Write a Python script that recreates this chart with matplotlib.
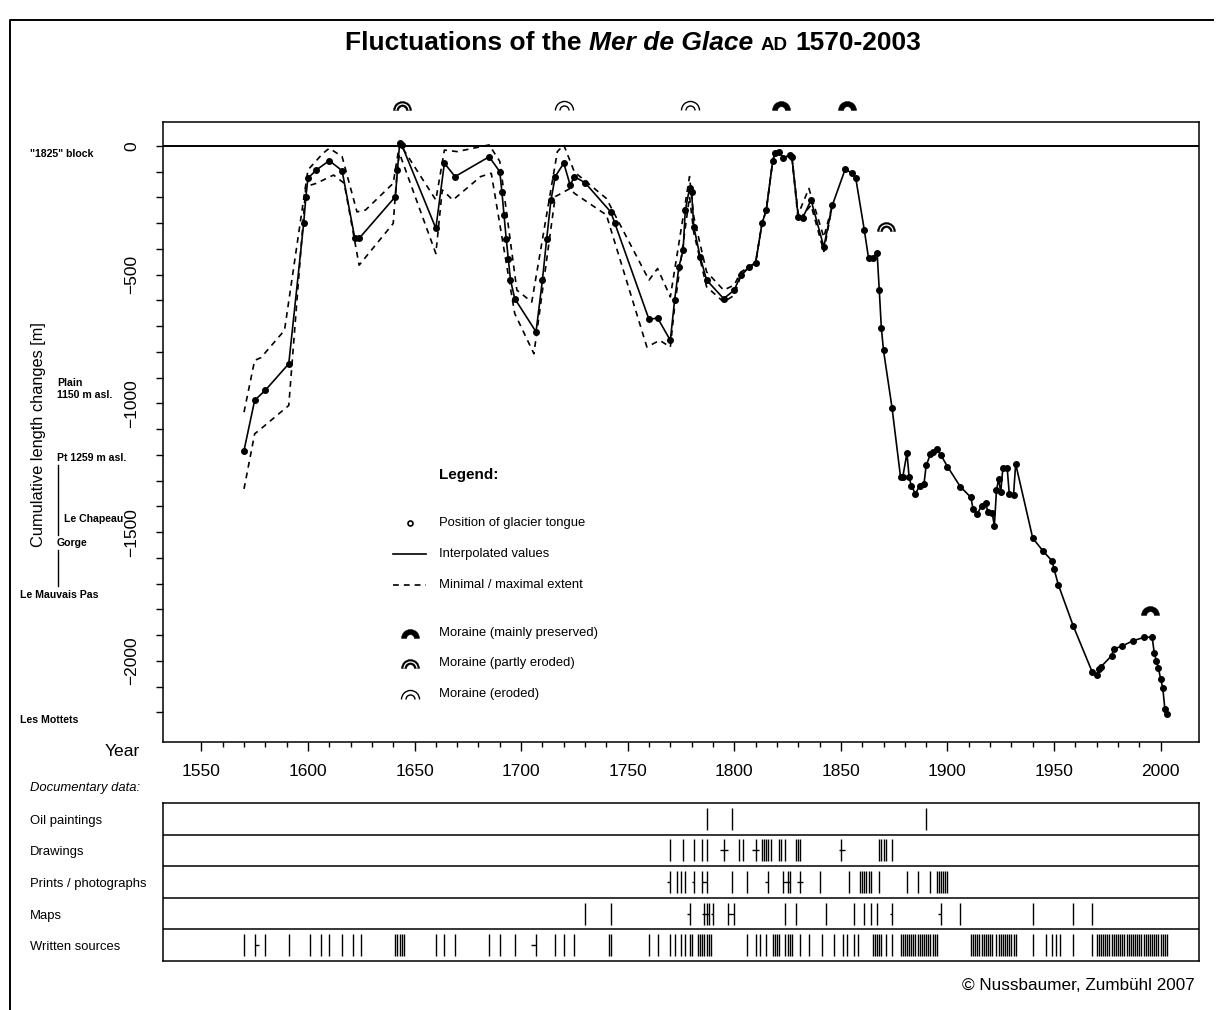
import numpy as np
import matplotlib
matplotlib.use("Agg")
import matplotlib.pyplot as plt
from matplotlib.path import Path
from matplotlib.lines import Line2D

plt.rcParams['font.family'] = ['Liberation Sans', 'DejaVu Sans']
plt.rcParams['axes.linewidth'] = 1.1

W, H, DPI = 1218, 1010, 100

# Cumulative length change of the glacier tongue [m], relative to the "1825" block
years = [1570, 1575, 1580, 1591, 1598, 1599, 1600, 1604, 1610, 1616, 1622, 1624,
         1641, 1642, 1643, 1644, 1660, 1664, 1669, 1685, 1690, 1691, 1692, 1693,
         1694, 1695, 1697, 1707, 1710, 1712, 1714, 1716, 1720, 1723, 1725, 1730,
         1742, 1744, 1760, 1764, 1770, 1772, 1774, 1776, 1777, 1779, 1780, 1781,
         1784, 1787, 1795, 1800, 1803, 1807, 1810, 1813, 1815, 1818, 1819, 1821,
         1823, 1826, 1827, 1830, 1832, 1836, 1842, 1846, 1852, 1855, 1857, 1861,
         1863, 1865, 1867, 1868, 1869, 1870, 1874, 1878, 1879, 1881, 1882, 1883,
         1885, 1887, 1889, 1890, 1892, 1893, 1895, 1897, 1900, 1906, 1911, 1912,
         1914, 1916, 1918, 1919, 1921, 1922, 1923, 1924, 1925, 1926, 1928, 1929,
         1931, 1932, 1940, 1945, 1949, 1950, 1952, 1959, 1968, 1970, 1971, 1972,
         1977, 1978, 1982, 1987, 1992, 1996, 1997, 1998, 1999, 2000, 2001, 2002,
         2003]
length = [-1183, -988, -949, -846, -300, -200, -125, -93, -57, -96, -359, -359,
          -197, -93, 10, 4, -320, -67, -119, -42, -100, -180, -270, -360,
          -440, -520, -593, -722, -520, -360, -210, -119, -67, -152, -119, -143,
          -256, -301, -674, -668, -755, -599, -470, -405, -250, -165, -180, -314,
          -431, -521, -593, -560, -502, -470, -454, -301, -249, -60, -28, -22,
          -48, -35, -41, -275, -281, -210, -392, -230, -91, -104, -126, -327,
          -437, -437, -415, -558, -709, -794, -1017, -1287, -1287, -1193, -1284, -1319,
          -1351, -1319, -1312, -1241, -1198, -1189, -1176, -1202, -1245, -1323, -1365, -1410,
          -1429, -1397, -1388, -1423, -1427, -1475, -1338, -1293, -1345, -1250, -1250, -1351,
          -1354, -1235, -1523, -1575, -1611, -1643, -1704, -1864, -2045, -2054, -2032, -2023,
          -1980, -1954, -1942, -1922, -1909, -1907, -1968, -2000, -2028, -2071, -2104, -2188,
          -2207]

# Maximal and minimal possible extent
max_years = [1570, 1575, 1578, 1589, 1600, 1607, 1610, 1616, 1623, 1627, 1640, 1643,
             1660, 1664, 1670, 1685, 1690, 1698, 1705, 1717, 1720, 1725, 1740, 1760,
             1764, 1770, 1779, 1781, 1787, 1795, 1800, 1803, 1807, 1810, 1813, 1815,
             1818, 1819, 1821, 1823, 1826, 1827, 1830, 1835, 1842, 1846]
max_length = [-1034, -833, -822, -716, -93, -29, -9, -41, -256, -249, -145, 10,
              -210, -16, -22, 4, -60, -560, -606, -22, 4, -101, -204, -521,
              -476, -586, -119, -275, -489, -560, -540, -490, -470, -454, -301, -249,
              -60, -28, -22, -48, -35, -41, -265, -165, -355, -230]
min_years = [1570, 1575, 1577, 1591, 1599, 1604, 1612, 1617, 1624, 1640, 1642, 1643,
             1660, 1663, 1668, 1681, 1686, 1697, 1706, 1716, 1723, 1725, 1740, 1759,
             1765, 1770, 1772, 1779, 1781, 1787, 1795, 1800, 1803, 1807, 1810, 1813,
             1815, 1818, 1819, 1821, 1823, 1826, 1827, 1830, 1836, 1842, 1846]
min_length = [-1332, -1118, -1105, -1008, -158, -145, -113, -145, -463, -301, -80, -30,
              -418, -171, -210, -119, -106, -651, -807, -197, -165, -184, -268, -781,
              -755, -781, -625, -197, -337, -547, -606, -580, -505, -470, -454, -301,
              -249, -60, -28, -22, -48, -35, -41, -290, -230, -410, -230]

# Moraines: year, position of the symbol and state of preservation
moraine_years = [1644, 1720, 1779, 1822, 1853, 1871, 1995]
moraine_length = [140, 140, 140, 140, 140, -330, -1821]
moraine_state = ['partly', 'eroded', 'eroded', 'preserved', 'preserved', 'partly', 'preserved']

# Documentary data (year of each source)
doc_rows = ['Oil paintings', 'Drawings', 'Prints / photographs', 'Maps', 'Written sources']
oil_years = [1787, 1799, 1890]
drawing_years = [1770, 1776, 1781, 1785, 1787, 1795, 1802, 1804, 1810, 1813, 1814,
                 1815, 1816, 1817, 1821, 1822, 1824, 1829, 1830, 1831, 1850, 1868,
                 1869, 1870, 1871, 1874]
print_years = [1770, 1773, 1775, 1777, 1781, 1785, 1787, 1799, 1806, 1816, 1823,
               1825, 1826, 1831, 1840, 1854, 1859, 1860, 1861, 1862, 1863, 1864,
               1868, 1881, 1886, 1892, 1895, 1896, 1897, 1898, 1899, 1900]
map_years = [1730, 1742, 1779, 1786, 1787, 1788, 1790, 1797, 1800, 1824, 1829, 1843,
             1856, 1861, 1864, 1867, 1874, 1897, 1906, 1940, 1959, 1968]
written_years = [1570, 1575, 1580, 1591, 1601, 1606, 1610, 1616, 1621, 1625, 1641,
                 1642, 1643, 1644, 1645, 1660, 1664, 1669, 1685, 1690, 1697, 1707,
                 1716, 1720, 1725, 1741, 1742, 1760, 1764, 1770, 1772, 1775, 1777,
                 1779, 1780, 1783, 1784, 1785, 1786, 1787, 1788, 1789, 1806, 1810,
                 1812, 1815, 1818, 1819, 1820, 1821, 1824, 1825, 1826, 1827, 1831,
                 1835, 1841, 1847, 1851, 1853, 1856, 1858, 1865, 1866, 1867, 1868,
                 1869, 1871, 1874, 1878, 1879, 1880, 1881, 1882, 1883, 1884, 1885,
                 1886, 1887, 1888, 1889, 1890, 1891, 1892, 1893, 1894, 1895, 1911,
                 1912, 1913, 1914, 1915, 1916, 1917, 1918, 1919, 1920, 1921, 1923,
                 1924, 1925, 1926, 1927, 1928, 1929, 1930, 1931, 1932, 1940, 1946,
                 1949, 1951, 1953, 1959, 1968, 1970, 1971, 1972, 1973, 1974, 1975,
                 1976, 1977, 1978, 1979, 1980, 1981, 1982, 1983, 1984, 1985, 1986,
                 1987, 1988, 1989, 1990, 1991, 1992, 1993, 1994, 1995, 1996, 1997,
                 1998, 1999, 2000, 2001, 2002, 2003]
# Sources dated only to a span of years
oil_spans = []
drawing_spans = [(1793.5, 1797), (1808.5, 1811.5), (1849, 1852)]
print_spans = [(1768.5, 1770), (1780, 1781), (1785, 1787), (1814.5, 1816), (1823, 1826), (1829.5, 1832)]
map_spans = [(1778, 1779), (1785, 1788), (1789, 1790), (1797, 1800), (1873, 1874), (1895.5, 1897)]
written_spans = [(1575, 1577), (1704.5, 1707)]

fig = plt.figure(figsize=(W / DPI, H / DPI), dpi=DPI)


def fx(px):
    return px / W


def fy(py):
    return 1 - py / H


# ---------- moraine symbols ----------
def unit_arc():
    return Path.arc(0, 180)


def half_ring(r_in):
    a = Path.arc(0, 180)
    vo = a.vertices
    vi = a.vertices[::-1] * r_in
    verts = np.vstack([vo, vi, vo[:1]])
    codes = ([Path.MOVETO] + [Path.CURVE4] * (len(vo) - 1)
             + [Path.LINETO] + [Path.CURVE4] * (len(vi) - 1) + [Path.CLOSEPOLY])
    return Path(verts, codes)


def moraine_artists(x, y, state, size, transform):
    kw = dict(ls='none', transform=transform, clip_on=False, zorder=6)
    out = []
    if state == 'eroded':
        out.append(Line2D([x], [y], marker=unit_arc(), ms=size, mfc='none', mec='black', mew=1.0, **kw))
        out.append(Line2D([x], [y], marker=unit_arc(), ms=size * 0.5, mfc='none', mec='black', mew=1.0, **kw))
    else:
        out.append(Line2D([x], [y], marker=half_ring(0.42), ms=size, mfc='black', mec='black', mew=0.3, **kw))
        if state == 'partly':
            out.append(Line2D([x], [y], marker=unit_arc(), ms=size * 0.72, mfc='none', mec='white', mew=0.9, **kw))
    return out


# ---------- main panel ----------
ax = fig.add_axes([fx(163), fy(742), fx(1199) - fx(163), fy(122) - fy(742)])
ax.set_xlim(1532, 2018)
ax.set_ylim(-2315, 93)
ax.axhline(0, color='black', lw=1.4, zorder=1)
ax.plot(max_years, max_length, color='black', lw=1.2, dashes=(3.5, 3), zorder=2)
ax.plot(min_years, min_length, color='black', lw=1.2, dashes=(3.5, 3), zorder=2)
ax.plot(years, length, color='black', lw=1.2, marker='o', ms=4, mfc='black', mec='black', zorder=3)

for yr, val, st in zip(moraine_years, moraine_length, moraine_state):
    for art in moraine_artists(yr, val, st, 13, ax.transData):
        ax.add_line(art)

ax.set_xticks(np.arange(1550, 2001, 50))
ax.set_xticks(np.arange(1550, 2001, 10), minor=True)
ax.tick_params(axis='x', which='major', direction='out', length=6.5, width=1, pad=9, labelsize=12.5)
ax.tick_params(axis='x', which='minor', direction='out', length=3.5, width=1)
ax.set_yticks([-2000, -1500, -1000, -500, 0])
ax.set_yticks(np.arange(-2200, 1, 100), minor=True)
ax.set_yticklabels(['\u22122000', '\u22121500', '\u22121000', '\u2212500', '0'], rotation=90, va='center')
ax.tick_params(axis='y', which='both', direction='out', length=5, width=1, pad=12, labelsize=12.5)

# ---------- documentary data panel ----------
axd = fig.add_axes([fx(163), fy(961), fx(1199) - fx(163), fy(803) - fy(961)])
axd.set_xlim(1532, 2018)
axd.set_ylim(0, 5)
axd.set_xticks([])
axd.set_yticks([])
for k in range(1, 5):
    axd.axhline(k, color='black', lw=1.1)
rows = [(oil_years, oil_spans), (drawing_years, drawing_spans), (print_years, print_spans),
        (map_years, map_spans), (written_years, written_spans)]
for i, (yrs, spans) in enumerate(rows):
    base = 4 - i
    axd.vlines(yrs, base + 0.15, base + 0.85, color='black', lw=1.0)
    for a, b in spans:
        axd.hlines(base + 0.5, a, b, color='black', lw=1.0)
    fig.text(fx(30), fy(805 + (i + 0.5) * 31.6), doc_rows[i], fontsize=9.4, va='center', ha='left')

fig.text(fx(30), fy(788), 'Documentary data:', fontsize=9.4, fontstyle='italic', va='center', ha='left')

# ---------- axis titles and place names ----------
fig.text(fx(140), fy(752), 'Year', fontsize=12.6, ha='right', va='center')
fig.text(fx(39), fy(435), 'Cumulative length changes [m]', fontsize=11.8, rotation=90,
         ha='center', va='center')

place_names = [('"1825" block', 30, 154), ('Plain\n1150 m asl.', 57, 389),
               ('Pt 1259 m asl.', 57, 458), ('Le Chapeau', 64, 519), ('Gorge', 57, 543),
               ('Le Mauvais Pas', 20, 595), ('Les Mottets', 20, 720)]
for name, px, py in place_names:
    fig.text(fx(px), fy(py), name, fontsize=7.6, fontweight='bold', ha='left', va='center',
             linespacing=1.25)
for y0, y1 in [(465, 535), (550, 586)]:
    fig.add_artist(Line2D([fx(58), fx(58)], [fy(y0), fy(y1)], color='black', lw=1.0,
                          transform=fig.transFigure))

# ---------- legend ----------
fig.text(fx(439), fy(475), 'Legend:', fontsize=11, fontweight='bold', ha='left', va='center')
legend_items = ['Position of glacier tongue', 'Interpolated values', 'Minimal / maximal extent',
                'Moraine (mainly preserved)', 'Moraine (partly eroded)', 'Moraine (eroded)']
legend_y = [523, 554, 585, 633, 663, 694]
for label, py in zip(legend_items, legend_y):
    fig.text(fx(439), fy(py), label, fontsize=9.4, ha='left', va='center')
tf = fig.transFigure
fig.add_artist(Line2D([fx(410)], [fy(523)], marker='o', ms=3.6, mfc='white', mec='black',
                      mew=1.2, ls='none', transform=tf))
fig.add_artist(Line2D([fx(393), fx(426)], [fy(554), fy(554)], color='black', lw=1.2, transform=tf))
fig.add_artist(Line2D([fx(393), fx(426)], [fy(585), fy(585)], color='black', lw=1.2,
                      dashes=(3.5, 3), transform=tf))
for st, py in zip(['preserved', 'partly', 'eroded'], legend_y[3:]):
    for art in moraine_artists(fx(410), fy(py + 5), st, 13, tf):
        fig.add_artist(art)

# ---------- frame, title and credit ----------
fig.add_artist(Line2D([fx(10), fx(10), fx(1213)], [fy(1010), fy(20), fy(20)], color='black',
                      lw=1.4, transform=tf))

renderer = fig.canvas.get_renderer()
title_parts = [("Fluctuations of the", dict(fontweight='bold', fontsize=19)),
               ("Mer de Glace", dict(fontweight='bold', fontstyle='italic', fontsize=19)),
               ("AD", dict(fontweight='bold', fontsize=13.5)),
               ("1570-2003", dict(fontweight='bold', fontsize=19))]
gap = 0.278 * 19 * DPI / 72
title_texts = [fig.text(0, fy(50), s, ha='left', va='baseline', **kw) for s, kw in title_parts]
widths = [t.get_window_extent(renderer).width for t in title_texts]
xpos = 633 - (sum(widths) + gap * (len(widths) - 1)) / 2
for t, w in zip(title_texts, widths):
    t.set_x(fx(xpos))
    xpos += w + gap

fig.text(fx(1195), fy(985), '\u00a9 Nussbaumer, Zumb\u00fchl 2007', fontsize=12.3, ha='right', va='center')

fig.savefig('out.png', dpi=DPI)
